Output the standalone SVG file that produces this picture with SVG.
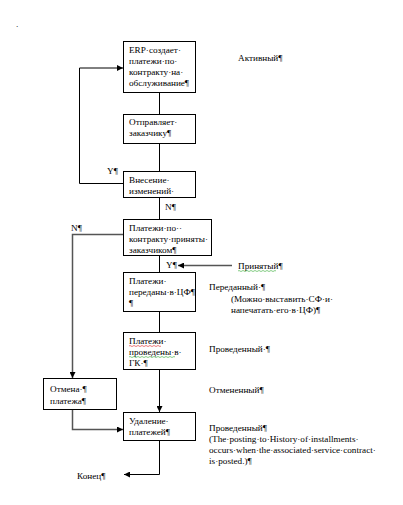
<svg xmlns="http://www.w3.org/2000/svg" width="403" height="505" viewBox="0 0 403 505">
<defs>
<marker id="ah" viewBox="0 0 10 10" refX="10" refY="5" markerWidth="6" markerHeight="6" orient="auto" markerUnits="userSpaceOnUse"><path d="M0,0 L10,5 L0,10 z" fill="#000"/></marker>
</defs>
<style>
.box{fill:#fff;stroke:#000;stroke-width:1}
.ln{fill:none;stroke:#000;stroke-width:1}
.lg{fill:none;stroke:#555;stroke-width:1.5}
.wr{fill:none;stroke:#d22;stroke-width:0.6}
.wg{fill:none;stroke:#3a3;stroke-width:0.6}
text{font-family:"Liberation Serif","Times New Roman",serif;font-size:9.2px;fill:#000}
</style>
<rect width="403" height="505" fill="#fff"/>
<text x="16" y="27" font-size="6">.</text>
<g id="connectors">
<path class="ln" d="M159.5,92.5 V114.5"/>
<path class="ln" d="M159.5,143.5 V171.5"/>
<path class="ln" d="M123.5,183.5 H79.5 V68 H123" marker-end="url(#ah)"/>
<path class="ln" d="M159.5,198 V219.5"/>
<path class="lg" d="M123.5,234.5 H72.5 V378" marker-end="url(#ah)"/>
<path class="ln" d="M159.5,256 V272.5"/>
<path class="lg" d="M232,265.5 H178" marker-end="url(#ah)"/>
<path class="ln" d="M159.5,312 V332.5"/>
<path class="ln" d="M159.5,369.5 V412" marker-end="url(#ah)"/>
<path class="lg" d="M72.5,409.5 V429.5 H123" marker-end="url(#ah)"/>
<path class="ln" d="M159.5,440 V474.5 H124" marker-end="url(#ah)"/>
</g>
<g id="n1"><rect class="box" x="123.5" y="41.5" width="72" height="51"/>
<text x="129" y="53">ERP·создает·</text><text x="129" y="64">платежи·по·</text><text x="129" y="75">контракту·на·</text><text x="129" y="86">обслуживание¶</text></g>
<g id="s1"><text x="238" y="61">Активный¶</text></g>
<g id="n2"><rect class="box" x="123.5" y="114.5" width="72" height="29"/>
<text x="129" y="125">Отправляет·</text><text x="129" y="136">заказчику¶</text></g>
<g id="n3"><rect class="box" x="123.5" y="171.5" width="72" height="26"/>
<text x="129" y="183">Внесение·</text><text x="129" y="194">изменений·</text></g>
<g id="l1"><text x="107" y="174">Y¶</text><text x="165" y="210">N¶</text><text x="71" y="231">N¶</text><text x="166" y="268">Y¶</text></g>
<g id="n4"><rect class="box" x="123.5" y="219.5" width="88" height="36"/>
<text x="129" y="231">Платежи·по··</text><text x="129" y="242">контракту·приняты·</text><text x="129" y="253">заказчиком¶</text></g>
<g id="s2"><text x="238" y="269">Принятый¶</text><path class="wg" d="M238,271 q1,-1 2,0 t2,0 t2,0 t2,0 t2,0 t2,0 t2,0 t2,0 t2,0 t2,0 t2,0 t2,0 t2,0 t2,0 t2,0 t2,0 t2,0 t2,0 t2,0"/></g>
<g id="n5"><rect class="box" x="123.5" y="272.5" width="72" height="39"/>
<text x="129" y="284">Платежи·</text><text x="129" y="295">переданы·в·ЦФ¶</text><text x="129" y="306">¶</text></g>
<g id="s3"><text x="209" y="290">Переданный·¶</text><text x="231" y="302">(Можно·выставить·СФ·и·</text><text x="231" y="313">напечатать·его·в·ЦФ)¶</text></g>
<g id="n6"><rect class="box" x="123.5" y="332.5" width="72" height="37"/>
<text x="129" y="344">Платежи·</text><path class="wr" d="M129,346 q1,-1 2,0 t2,0 t2,0 t2,0 t2,0 t2,0 t2,0 t2,0 t2,0 t2,0 t2,0 t2,0 t2,0 t2,0 t2,0 t2,0"/>
<text x="129" y="355">проведены·в·</text><path class="wg" d="M129,357 q1,-1 2,0 t2,0 t2,0 t2,0 t2,0 t2,0 t2,0 t2,0 t2,0 t2,0 t2,0 t2,0 t2,0 t2,0 t2,0 t2,0 t2,0 t2,0 t2,0 t2,0 t2,0 t2,0 t2,0"/>
<text x="129" y="366">ГК·¶</text></g>
<g id="s4"><text x="209" y="352">Проведенный·¶</text></g>
<g id="n7"><rect class="box" x="43.5" y="378.5" width="73" height="31"/>
<text x="50" y="392">Отмена·¶</text><text x="50" y="404">платежа¶</text></g>
<g id="s5"><text x="209" y="393">Отмененный¶</text></g>
<g id="n8"><rect class="box" x="123.5" y="412.5" width="72" height="28"/>
<text x="129" y="424">Удаление·</text><text x="129" y="435">платежей¶</text></g>
<g id="s6"><text x="209" y="431">Проведенный¶</text><text x="209" y="442">(The·posting·to·History·of·installments·</text><text x="209" y="453">occurs·when·the·associated·service·contract·</text><text x="209" y="464">is·posted.)¶</text></g>
<g id="end"><text x="77" y="479">Конец¶</text></g>
</svg>
